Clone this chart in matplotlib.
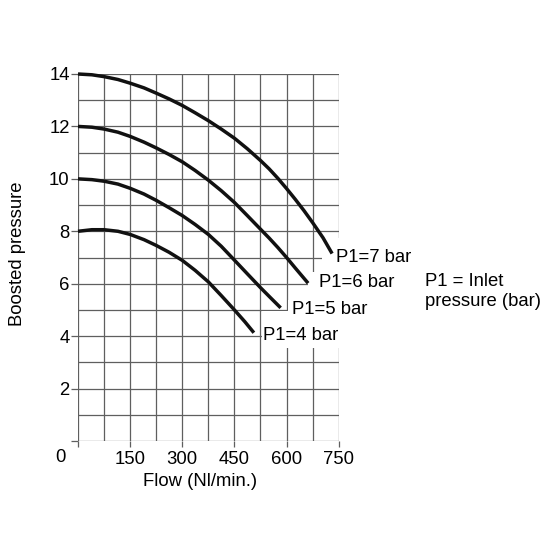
import matplotlib
matplotlib.use("Agg")
import matplotlib.pyplot as plt
from matplotlib.patches import Rectangle

# curves (flow in Nl/min, boosted pressure in bar)
flow_7 = [0, 40, 75, 115, 150, 190, 225, 262, 300, 337, 375, 412, 450, 487,
          525, 550, 575, 600, 625, 650, 675, 705, 731]
p_7 = [14, 13.97, 13.9, 13.79, 13.65, 13.47, 13.27, 13.05, 12.8, 12.52, 12.22,
       11.9, 11.55, 11.15, 10.7, 10.38, 10.02, 9.63, 9.22, 8.79, 8.33, 7.75, 7.15]
flow_6 = [0, 40, 75, 115, 150, 190, 225, 262, 300, 337, 375, 412, 450, 487,
          525, 550, 575, 600, 625, 662]
p_6 = [12, 11.97, 11.9, 11.78, 11.62, 11.4, 11.18, 10.93, 10.65, 10.32, 9.95,
       9.55, 9.1, 8.6, 8.08, 7.74, 7.38, 7.0, 6.6, 6.02]
flow_5 = [0, 40, 75, 115, 150, 190, 225, 262, 300, 337, 375, 412, 450, 487,
          525, 555, 583]
p_5 = [10, 9.97, 9.91, 9.8, 9.64, 9.42, 9.18, 8.9, 8.6, 8.26, 7.88, 7.43, 6.9,
       6.38, 5.85, 5.45, 5.08]
flow_4 = [0, 40, 75, 115, 150, 190, 225, 262, 300, 337, 375, 412, 450, 480, 506]
p_4 = [8, 8.06, 8.06, 8.0, 7.88, 7.68, 7.46, 7.2, 6.89, 6.51, 6.07, 5.55, 5.0,
       4.55, 4.13]

curves = [(flow_7, p_7, "P1=7 bar"), (flow_6, p_6, "P1=6 bar"),
          (flow_5, p_5, "P1=5 bar"), (flow_4, p_4, "P1=4 bar")]

x_ticks = [0, 150, 300, 450, 600, 750]
x_labels = ["", "150", "300", "450", "600", "750"]
y_ticks = [0, 2, 4, 6, 8, 10, 12, 14]
y_labels = ["", "2", "4", "6", "8", "10", "12", "14"]

FS = 13.3
GRID = "#5f5f5f"

plt.rcParams["font.family"] = ["Liberation Sans", "DejaVu Sans"]

fig = plt.figure(figsize=(5.5, 5.5), dpi=100)
W = 550.0
ax = fig.add_axes([78 / W, 1 - 441 / W, (338.7 - 78) / W, (441 - 74) / W])
ax.set_xlim(0, 750)
ax.set_ylim(0, 14)

for s in ax.spines.values():
    s.set_visible(False)

# grid: every 75 Nl/min and every 1 bar
for gx in range(0, 751, 75):
    ax.axvline(gx, color=GRID, lw=0.9, zorder=1)
for gy in range(0, 15):
    ax.axhline(gy, color=GRID, lw=0.9, zorder=1)

ax.set_xticks(x_ticks)
ax.set_xticklabels(x_labels)
ax.set_yticks(y_ticks)
ax.set_yticklabels(y_labels)
ax.tick_params(axis="x", direction="out", length=4, width=0.9, color=GRID,
               labelsize=FS, pad=3.5)
ax.tick_params(axis="y", direction="out", length=5, width=0.9, color=GRID,
               labelsize=FS, pad=1)

# white patches behind the curve labels (pixel boxes)
boxes = [(322, 238, 272), (308, 272, 300), (288, 300, 311), (262, 311, 348)]
for x0, y0, y1 in boxes:
    ax.add_patch(Rectangle((x0 / W, 1 - y1 / W), (345 - x0) / W, (y1 - y0) / W,
                           transform=fig.transFigure, facecolor="white",
                           edgecolor="none", zorder=2, clip_on=False))

label_x = [743, 693, 615, 532]
label_y = [7, 6.05, 5.02, 4.03]
for (fx, py, lab), lx, ly in zip(curves, label_x, label_y):
    ax.plot(fx, py, color="#111111", lw=2.5, solid_capstyle="butt",
            solid_joinstyle="round", zorder=3, clip_on=False)
    ax.text(lx, ly, lab, fontsize=FS, ha="left", va="center", zorder=4,
            clip_on=False)

fig.text(60 / W, 1 - 458 / W, "0", fontsize=FS, ha="center", va="center")
fig.text(200 / W, 1 - 481.7 / W, "Flow (Nl/min.)", fontsize=FS,
         ha="center", va="center")
fig.text(18 / W, 1 - 254 / W, "Boosted pressure", fontsize=FS,
         ha="center", va="center", rotation=90)
fig.text(425 / W, 1 - 291.5 / W, "P1 = Inlet\npressure (bar)", fontsize=FS,
         ha="left", va="center", linespacing=1.3)

fig.savefig("out.png", dpi=100)
